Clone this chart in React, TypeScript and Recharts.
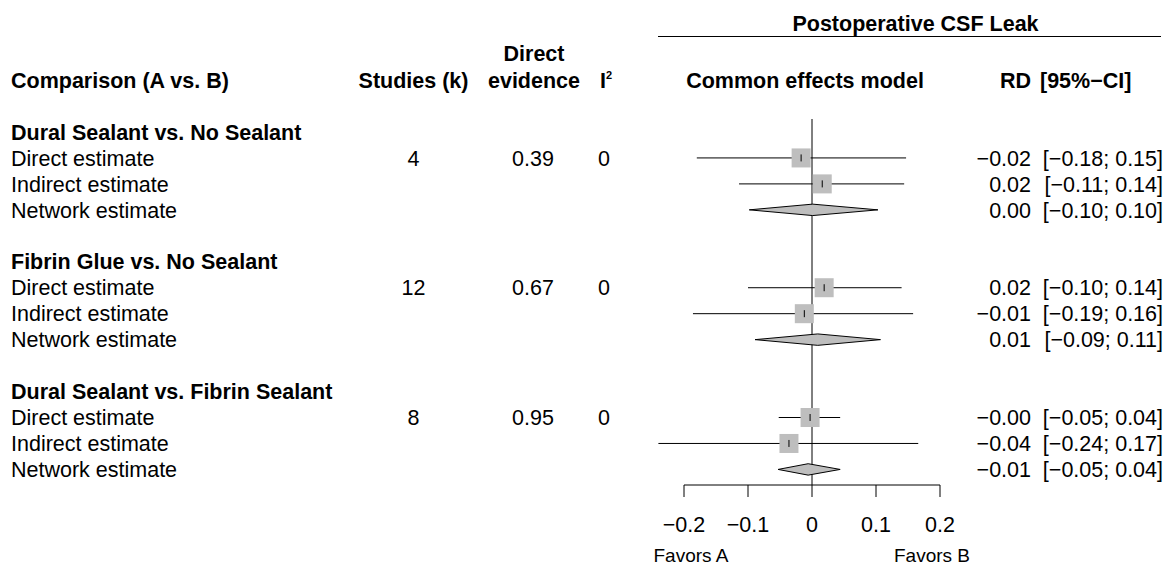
import React from 'react';
import { ScatterChart, Scatter, XAxis, YAxis } from 'recharts';

// ---------- data ----------
const comparisons = [
  'Dural Sealant vs. No Sealant',
  'Fibrin Glue vs. No Sealant',
  'Dural Sealant vs. Fibrin Sealant',
];
const studiesK = [4, 12, 8];
const directEvidence = [0.39, 0.67, 0.95];
const iSquared = [0, 0, 0];
const estimateLabels = ['Direct estimate', 'Indirect estimate', 'Network estimate'];
// per comparison: [direct, indirect, network]
const rdEstimate = [
  [-0.017, 0.016, 0.001],
  [0.019, -0.012, 0.009],
  [-0.003, -0.036, -0.006],
];
const rdLower = [
  [-0.18, -0.114, -0.098],
  [-0.1, -0.186, -0.089],
  [-0.052, -0.24, -0.053],
];
const rdUpper = [
  [0.147, 0.144, 0.103],
  [0.14, 0.158, 0.107],
  [0.044, 0.166, 0.044],
];
const xTicks = [-0.2, -0.1, 0, 0.1, 0.2];
const xDomain: [number, number] = [-0.25, 0.25];

// ---------- layout ----------
const W = 1165;
const H = 565;
const FONT = '"Liberation Sans", Arial, Helvetica, sans-serif';
const Y_MIN = -0.5;
const Y_MAX = 13.6;
const MARGIN = { top: 119, right: 193, bottom: 20, left: 652 };
const XAXIS_H = 60;
const PLOT_TOP = MARGIN.top;
const PLOT_BOTTOM = H - MARGIN.bottom - XAXIS_H;
const rowCenter = (r: number) =>
  PLOT_TOP + ((r - Y_MIN) * (PLOT_BOTTOM - PLOT_TOP)) / (Y_MAX - Y_MIN);
const FS = 21.5;
const BASE = FS * 0.358;

const rowOf = (g: number, e: number) => g * 5 + 1 + e;
const fmt = (v: number) => v.toFixed(2).replace('-', '\u2212');

const DH = 0.22; // diamond half-height in row units

const EmptyShape = () => <g />;
const SquareShape = (props: any) => {
  const { cx, cy } = props;
  const s = 19;
  return (
    <g>
      <rect x={cx - s / 2} y={cy - s / 2} width={s} height={s} fill="#bebebe" />
      <line x1={cx} x2={cx} y1={cy - 3.5} y2={cy + 3.5} stroke="#000" strokeWidth={1} />
    </g>
  );
};
const DiamondPolygon = (props: any) => {
  const pts = (props.points || []).map((p: any) => `${p.x},${p.y}`).join(' ');
  return <polygon points={pts} fill="#bebebe" stroke="#000" strokeWidth={1} />;
};

export default function App() {
  const ciSeries: { x: number; y: number }[][] = [];
  const squares: { x: number; y: number }[] = [];
  const diamonds: { x: number; y: number }[][] = [];
  comparisons.forEach((_, g) => {
    for (let e = 0; e < 2; e++) {
      const r = rowOf(g, e);
      ciSeries.push([
        { x: rdLower[g][e], y: r },
        { x: rdUpper[g][e], y: r },
      ]);
      squares.push({ x: rdEstimate[g][e], y: r });
    }
    const r = rowOf(g, 2);
    diamonds.push([
      { x: rdLower[g][2], y: r },
      { x: rdEstimate[g][2], y: r - DH },
      { x: rdUpper[g][2], y: r },
      { x: rdEstimate[g][2], y: r + DH },
      { x: rdLower[g][2], y: r },
    ]);
  });
  const zeroLine = [
    { x: 0, y: Y_MIN },
    { x: 0, y: Y_MAX },
  ];
  const axisLine = [
    { x: xTicks[0], y: Y_MAX },
    { x: xTicks[xTicks.length - 1], y: Y_MAX },
  ];

  const texts: React.ReactNode[] = [];
  comparisons.forEach((name, g) => {
    const rh = g * 5;
    texts.push(
      <text key={`h${g}`} x={11} y={rowCenter(rh) + BASE} fontWeight="bold">
        {name}
      </text>
    );
    estimateLabels.forEach((lab, e) => {
      const r = rowOf(g, e);
      const y = rowCenter(r) + BASE;
      texts.push(
        <text key={`l${g}${e}`} x={11} y={y}>
          {lab}
        </text>
      );
      if (e === 0) {
        texts.push(
          <text key={`k${g}`} x={413.5} y={y} textAnchor="middle">
            {studiesK[g]}
          </text>,
          <text key={`d${g}`} x={533} y={y} textAnchor="middle">
            {directEvidence[g].toFixed(2)}
          </text>,
          <text key={`i${g}`} x={604} y={y} textAnchor="middle">
            {iSquared[g]}
          </text>
        );
      }
      texts.push(
        <text key={`rd${g}${e}`} x={1031} y={y} textAnchor="end">
          {fmt(rdEstimate[g][e])}
        </text>,
        <text key={`ci${g}${e}`} x={1163} y={y} textAnchor="end">
          {`[${fmt(rdLower[g][e])}; ${fmt(rdUpper[g][e])}]`}
        </text>
      );
    });
  });

  return (
    <div
      style={{
        position: 'absolute',
        left: 0,
        top: 0,
        width: W,
        height: H,
        fontFamily: FONT,
        background: '#fff',
      }}
    >
      <ScatterChart width={W} height={H} margin={MARGIN}>
        <XAxis
          dataKey="x"
          type="number"
          domain={xDomain}
          ticks={xTicks}
          axisLine={false}
          tickSize={12}
          tickMargin={20}
          height={XAXIS_H}
          tickLine={{ stroke: '#000', strokeWidth: 1 }}
          tick={{ fontSize: FS, fill: '#000', fontFamily: FONT }}
          tickFormatter={(v: number) => (v === 0 ? '0' : String(v).replace('-', '\u2212'))}
          interval={0}
        />
        <YAxis dataKey="y" type="number" domain={[Y_MIN, Y_MAX]} reversed hide />
        {ciSeries.map((d, i) => (
          <Scatter
            key={`ci${i}`}
            data={d}
            shape={EmptyShape}
            line={{ stroke: '#000', strokeWidth: 1 }}
            isAnimationActive={false}
          />
        ))}
        <Scatter
          data={zeroLine}
          shape={EmptyShape}
          line={{ stroke: '#000', strokeWidth: 1 }}
          isAnimationActive={false}
        />
        <Scatter
          data={axisLine}
          shape={EmptyShape}
          line={{ stroke: '#000', strokeWidth: 1 }}
          isAnimationActive={false}
        />
        {diamonds.map((d, i) => (
          <Scatter
            key={`dm${i}`}
            data={d}
            shape={EmptyShape}
            line={DiamondPolygon}
            isAnimationActive={false}
          />
        ))}
        <Scatter data={squares} shape={SquareShape} isAnimationActive={false} />
      </ScatterChart>
      <svg
        width={W}
        height={H}
        style={{ position: 'absolute', left: 0, top: 0, pointerEvents: 'none' }}
        fontFamily={FONT}
        fontSize={FS}
        fill="#000"
      >
        <text x={915.5} y={31} textAnchor="middle" fontWeight="bold">
          Postoperative CSF Leak
        </text>
        <line x1={658} x2={1161} y1={36.5} y2={36.5} stroke="#000" strokeWidth={1} />
        <text x={11} y={88} fontWeight="bold">
          Comparison (A vs. B)
        </text>
        <text x={413.5} y={88} textAnchor="middle" fontWeight="bold">
          Studies (k)
        </text>
        <text x={534} y={61} textAnchor="middle" fontWeight="bold">
          Direct
        </text>
        <text x={534} y={88} textAnchor="middle" fontWeight="bold">
          evidence
        </text>
        <text x={600} y={88} fontWeight="bold">
          I<tspan fontSize={11} dy={-9}>2</tspan>
        </text>
        <text x={805} y={88} textAnchor="middle" fontWeight="bold">
          Common effects model
        </text>
        <text x={1031} y={88} textAnchor="end" fontWeight="bold">
          RD
        </text>
        <text x={1040} y={88} fontWeight="bold">
          [95%{'\u2212'}CI]
        </text>
        {texts}
        <text x={691} y={562} textAnchor="middle" fontSize={19}>
          Favors A
        </text>
        <text x={932} y={562} textAnchor="middle" fontSize={19}>
          Favors B
        </text>
      </svg>
    </div>
  );
}
